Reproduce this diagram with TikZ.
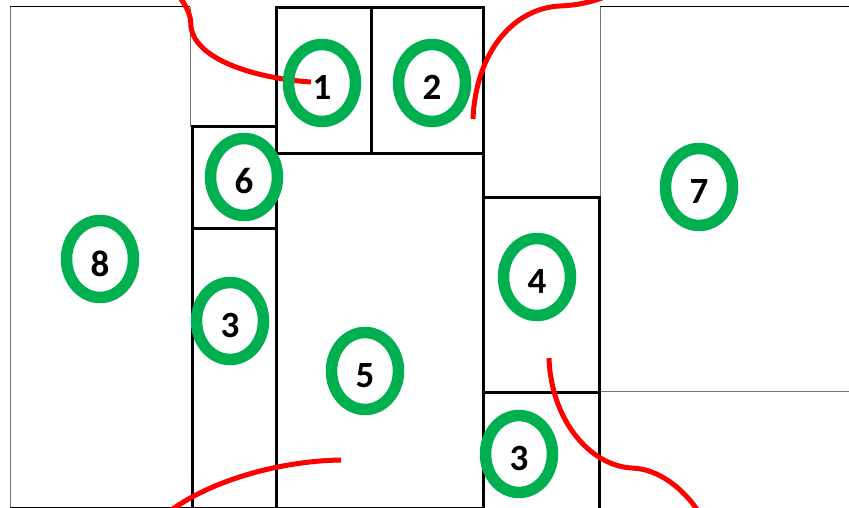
\documentclass[tikz,border=0pt]{standalone}
\usepackage{fontspec}
\setmainfont{Carlito}
\usetikzlibrary{shapes.geometric}
\definecolor{ogreen}{HTML}{00B050}
\definecolor{ored}{HTML}{FF0000}
\begin{document}
\begin{tikzpicture}[x=1pt,y=-1pt,
  wall/.style={line width=3pt,black},
  thinwall/.style={line width=1pt,black!55},
  topwall/.style={line width=1pt,black},
  ring/.style={draw=ogreen,line width=11.5pt,ellipse,inner sep=0pt,minimum width=67pt,minimum height=77pt},
  num/.style={font=\bfseries\fontsize{37}{37}\selectfont,inner sep=0pt},
  path/.style={ored,line width=5pt}]
\useasboundingbox (0,0) rectangle (849,508);
\fill[white] (0,0) rectangle (849,508);
% thin outlines of side rooms
\draw[topwall] (10,7) -- (190,7);
\draw[thinwall] (10,7) -- (10,508);
\draw[thinwall] (190,7) -- (190,127);
\draw[topwall] (600,7) -- (849,7);
\draw[thinwall] (600,7) -- (600,197);
\draw[thinwall] (600,391) -- (849,391);
\draw[topwall] (10,507.5) -- (483,507.5);
% thick boxes
\draw[wall] (276,154) rectangle (483,8);
\draw[wall] (371,8) -- (371,154);
\draw[wall] (192,508) -- (192,127) -- (276,127);
\draw[wall] (192,228) -- (276,228);
\draw[wall] (276,154) -- (276,508);
\draw[wall] (483,154) -- (483,508);
\draw[wall] (483,197) -- (599,197) -- (599,508);
\draw[wall] (483,392) -- (599,392);
% red curves
\draw[path] (181,-1) .. controls (189,10) and (191,18) .. (191,27) .. controls (196,62) and (262,79) .. (311,82);
\draw[path] (473,119) .. controls (476,50) and (515,8) .. (560,6) .. controls (580,5) and (590,2) .. (602,-2);
\draw[path] (549,358) .. controls (551,420) and (590,466) .. (632,468) .. controls (660,469) and (684,490) .. (698,511);
\draw[path] (341,460) .. controls (280,461) and (212,480) .. (170,511);
% rings
\foreach \n/\x/\y/\t in {r1/322/83/1, r2/432/83/2, r6/244/177/6, r7/699/187/7, r8/100/259/8, r3a/230/321/3, r4/537/277/4, r5/365/371/5, r3b/519/454/3}{
  \node[ring] (\n) at (\x,\y) {};
  \node[num] (t\n) at ([yshift=-4.5pt]\n.center) {\t};
}
\end{tikzpicture}
\end{document}
